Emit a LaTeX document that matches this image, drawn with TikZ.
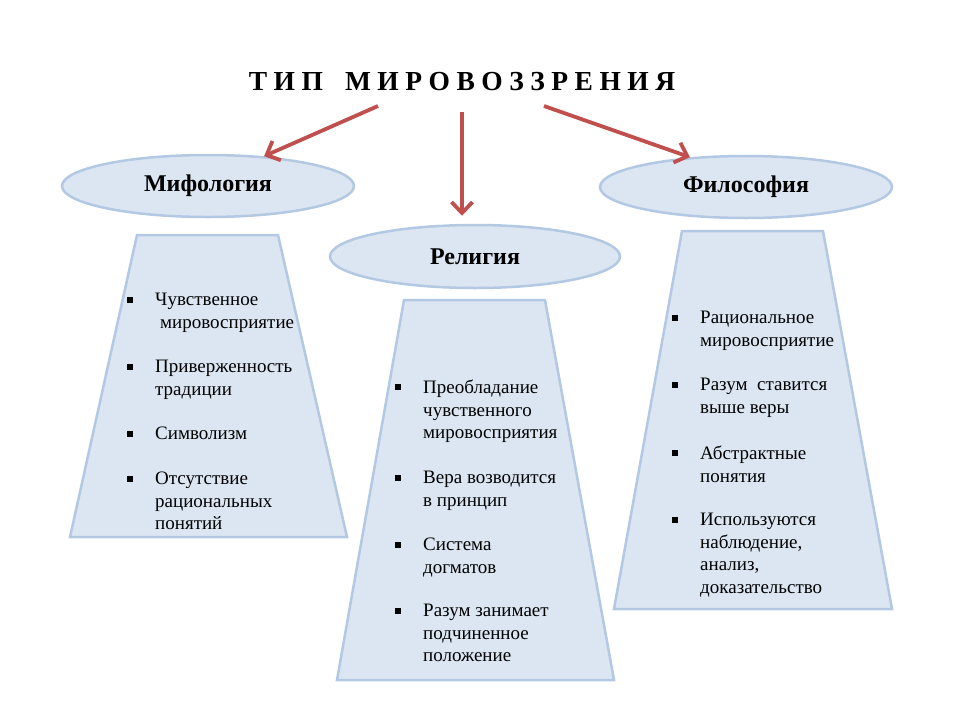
\documentclass[tikz,border=0pt]{standalone}
\usepackage{fontspec}
\setmainfont{LiberationSerif}[Extension=.ttf, UprightFont=*-Regular, BoldFont=*-Bold, ItalicFont=*-Italic, BoldItalicFont=*-BoldItalic]
\usepackage{xcolor}
\usetikzlibrary{shapes.geometric,arrows.meta}
\definecolor{boxfill}{HTML}{DCE6F2}
\definecolor{boxline}{HTML}{B3C8E3}
\definecolor{arrred}{HTML}{C0504D}
\newcommand{\lsp}{\hspace{6.5pt}}

\begin{document}
\begin{tikzpicture}[x=1pt,y=1pt]
	\tikzstyle{every node}+=[inner sep=0pt]
	\tikzstyle{oval}=[ellipse, draw=boxline, fill=boxfill, line width=2.5pt, font=\fontsize{24}{27}\selectfont\bfseries]
	\tikzstyle{trap}=[draw=boxline, fill=boxfill, line width=2.5pt, line join=miter]
	\tikzstyle{item}=[anchor=north west, align=left, font=\fontsize{19}{22.5}\selectfont]
	\tikzstyle{blt}=[rectangle, fill=black, minimum size=5.5pt]
	\tikzstyle{arr}=[draw=arrred, line width=3.8pt, -{Straight Barb[length=11pt,width=21pt,line width=3.8pt]}]
	\useasboundingbox (0,0) rectangle (960,-720);
	\node (title) at (462,-82) {\fontsize{27.5}{30}\selectfont\bfseries Т\lsp И\lsp П\hspace{22pt}М\lsp И\lsp Р\lsp О\lsp В\lsp О\lsp З\lsp З\lsp Р\lsp Е\lsp Н\lsp И\lsp Я};
	\draw [trap] (137,-235) -- (278,-235) -- (347,-537) -- (70,-537) -- cycle;
	\draw [trap] (404,-300) -- (545,-300) -- (614,-680) -- (337,-680) -- cycle;
	\draw [trap] (682,-231) -- (823,-231) -- (892,-609) -- (614,-609) -- cycle;
	\node [oval, minimum width=292pt, minimum height=62pt] (myth) at (208,-186) {Мифология};
	\node [oval, minimum width=290pt, minimum height=63pt] (rel) at (475,-256.5) {Религия};
	\node [oval, minimum width=292pt, minimum height=62pt] (phil) at (746,-187) {Философия};
	\coordinate (a1) at (378,-106);
	\coordinate (a3) at (544,-106);
	\draw [arr] (a1) -- (myth.28);
	\draw [arr, shorten <=21pt, shorten >=8pt] (title.south) -- (title.south |- rel.north);
	\draw [arr] (a3) -- (phil.152);
	\node [blt] (mb1) at (130,-300) {};
	\node [item] (m1) at (155,-293) {Чувственное\\\hspace*{5pt}мировосприятие};
	\node [blt] (mb2) at (130,-367) {};
	\node [item] (m2) at (155,-360) {Приверженность\\традиции};
	\node [blt] (mb3) at (130,-434) {};
	\node [item] (m3) at (155,-427) {Символизм};
	\node [blt] (mb4) at (130,-479) {};
	\node [item] (m4) at (155,-472) {Отсутствие\\рациональных\\понятий};
	\node [blt] (rb1) at (398,-387) {};
	\node [item] (r1) at (423,-380) {Преобладание\\чувственного\\мировосприятия};
	\node [blt] (rb2) at (398,-478) {};
	\node [item] (r2) at (423,-471) {Вера возводится\\в принцип};
	\node [blt] (rb3) at (398,-545) {};
	\node [item] (r3) at (423,-538) {Система\\догматов};
	\node [blt] (rb4) at (398,-611) {};
	\node [item] (r4) at (423,-604) {Разум занимает\\подчиненное\\положение};
	\node [blt] (fb1) at (675,-318) {};
	\node [item] (f1) at (700,-311) {Рациональное\\мировосприятие};
	\node [blt] (fb2) at (675,-385) {};
	\node [item] (f2) at (700,-378) {Разум\ \ ставится\\выше веры};
	\node [blt] (fb3) at (675,-453) {};
	\node [item] (f3) at (700,-446) {Абстрактные\\понятия};
	\node [blt] (fb4) at (675,-520) {};
	\node [item] (f4) at (700,-513) {Используются\\наблюдение,\\анализ,\\доказательство};
\end{tikzpicture}
\end{document}
